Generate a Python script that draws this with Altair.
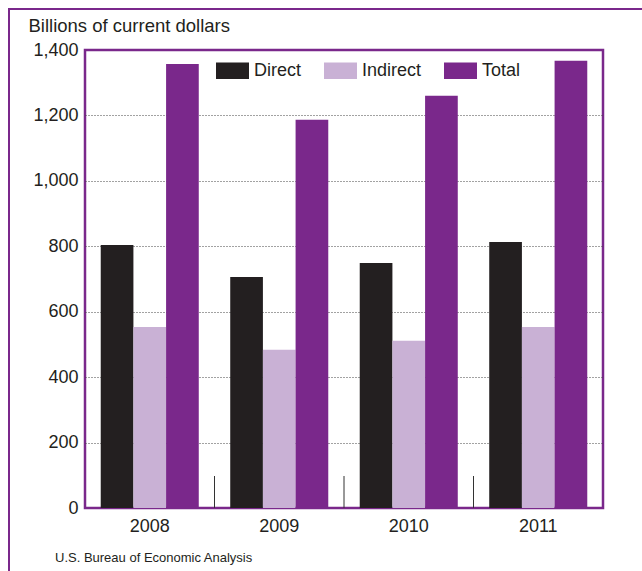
import altair as alt
import pandas as pd

years = ["2008", "2009", "2010", "2011"]
series = ["Direct", "Indirect", "Total"]
direct = [804, 706, 749, 813]
indirect = [553, 484, 511, 553]
total = [1357, 1187, 1260, 1367]
y_ticks = [0, 200, 400, 600, 800, 1000, 1200, 1400]
colors = ["#231F20", "#C9B1D5", "#7A288B"]
source = "U.S. Bureau of Economic Analysis"
y_title = "Billions of current dollars"

rows = []
for i, yr in enumerate(years):
    for s, vals in zip(series, [direct, indirect, total]):
        rows.append({"year": yr, "series": s, "value": vals[i]})
df = pd.DataFrame(rows)
bounds = pd.DataFrame({"b": list(range(1, len(years)))})

W, H = 518, 458
PURPLE = "#7A288B"
FONT = "Liberation Sans"
FS = 18

bars = alt.Chart(df).mark_bar().encode(
    x=alt.X("year:N", sort=years, title=None,
            scale=alt.Scale(paddingInner=0.243, paddingOuter=0.1215),
            axis=alt.Axis(labelFontSize=FS, labelFont=FONT, labelColor="#231F20",
                          ticks=False, tickSize=0, domain=False, labelPadding=9,
                          labelAngle=0, grid=False)),
    xOffset=alt.XOffset("series:N", sort=series, scale=alt.Scale(paddingInner=0, paddingOuter=0)),
    y=alt.Y("value:Q", title=y_title,
            scale=alt.Scale(domain=[0, 1400], nice=False),
            axis=alt.Axis(values=y_ticks, format=",d", labelFontSize=FS, labelFont=FONT,
                          labelColor="#231F20", ticks=False, domain=False, labelPadding=7,
                          grid=True, gridDash=[1, 2], gridColor="#444444", gridWidth=1,
                          gridOpacity=alt.condition("datum.value == 0 || datum.value == 1400",
                                                    alt.value(0), alt.value(1)),
                          titleAngle=0, titleX=-57, titleY=-19, titleAlign="left",
                          titleBaseline="alphabetic", titleFontSize=18.5, titleFont=FONT,
                          titleFontWeight="normal", titleColor="#231F20")),
    color=alt.Color("series:N", sort=series,
                    scale=alt.Scale(domain=series, range=colors),
                    legend=alt.Legend(title=None, orient="none", direction="horizontal",
                                      legendX=131, legendY=4, padding=0,
                                      symbolType="M-1,-0.5H1V0.5H-1Z", symbolSize=1089,
                                      symbolStrokeWidth=0, symbolOpacity=1,
                                      labelFontSize=FS, labelFont=FONT, labelColor="#231F20",
                                      labelOffset=5, columnPadding=22)),
)

ticks = alt.Chart(bounds).mark_rule(color="#333333", strokeWidth=1).encode(
    x=alt.X("b:Q", scale=alt.Scale(domain=[0, len(years)], nice=False), axis=None),
    y=alt.value(H),
    y2=alt.value(H - 32),
)

frame = alt.Chart(pd.DataFrame({"t": [source]})).mark_rect(
    fill=None, stroke=PURPLE, strokeWidth=2
).encode(
    x=alt.value(-76), x2=alt.value(W + 100), y=alt.value(-41), y2=alt.value(H + 100)
)

src = alt.Chart(pd.DataFrame({"t": [source]})).mark_text(
    align="left", baseline="alphabetic", fontSize=13,
    font=FONT, color="#231F20"
).encode(text="t:N", x=alt.value(-30), y=alt.value(H + 54))

chart = alt.layer(bars, ticks, frame, src).resolve_scale(x="independent").properties(
    width=W, height=H,
    autosize=alt.AutoSizeParams(type="none"),
    padding={"left": 85, "top": 50, "right": 39, "bottom": 63},
    background="white",
).configure_view(stroke=PURPLE, strokeWidth=2.5)

chart.save("out.html", embed_options={"renderer": "svg", "actions": False})
